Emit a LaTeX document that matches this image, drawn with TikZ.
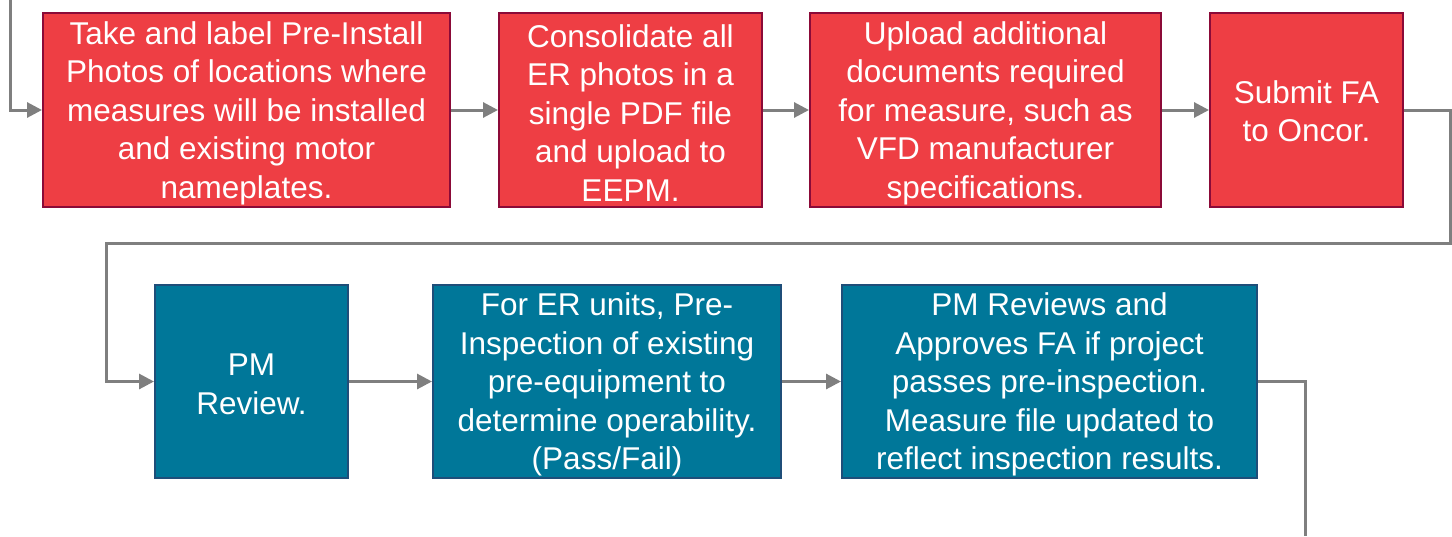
\documentclass[tikz,border=0pt]{standalone}
\usepackage{fontspec}
\setmainfont{Liberation Sans}
\usetikzlibrary{arrows.meta}
\definecolor{redfill}{HTML}{EE3E44}
\definecolor{redline}{HTML}{8B0A38}
\definecolor{tealfill}{HTML}{007799}
\definecolor{tealline}{HTML}{1F4E79}
\definecolor{arrgray}{HTML}{7F7F7F}
\tikzset{
  box/.style={rectangle, inner sep=0pt, line width=2pt, minimum height=194pt},
  redbox/.style={box, fill=redfill, draw=redline},
  tealbox/.style={box, fill=tealfill, draw=tealline, minimum height=193pt},
  txt/.style={inner sep=0pt, text=white, align=center, yshift=-3pt,
    font=\fontsize{31.5}{38.5}\selectfont},
  conn/.style={draw=arrgray, line width=3pt, -{Triangle[length=15pt,width=15pt]}},
  plain/.style={draw=arrgray, line width=3pt}
}
\begin{document}
\begin{tikzpicture}[x=1pt,y=-1pt]
\useasboundingbox (0,0) rectangle (1452,536);
\node[redbox, minimum width=407pt] (b1) at (246.5,110) {};
\node[redbox, minimum width=263pt] (b2) at (630.5,110) {};
\node[redbox, minimum width=351pt] (b3) at (985.5,110) {};
\node[redbox, minimum width=193pt] (b4) at (1306.5,110) {};
\node[tealbox, minimum width=193pt] (b5) at (251.5,381.5) {};
\node[tealbox, minimum width=348pt] (b6) at (607,381.5) {};
\node[tealbox, minimum width=415pt] (b7) at (1049.5,381.5) {};
\node[txt] (t1) at (b1) {Take and label Pre-Install\\Photos of locations where\\measures will be installed\\and existing motor\\nameplates.};
\node[txt] (t2) at (b2) {Consolidate all\\ER photos in a\\single PDF file\\and upload to\\EEPM.};
\node[txt] (t3) at (b3) {Upload additional\\documents required\\for measure, such as\\VFD manufacturer\\specifications.};
\node[txt, yshift=2pt] (t4) at (b4) {Submit FA\\to Oncor.};
\node[txt] (t5) at (b5) {PM\\Review.};
\node[txt] (t6) at (b6) {For ER units, Pre-\\Inspection of existing\\pre-equipment to\\determine operability.\\(Pass/Fail)};
\node[txt] (t7) at (b7) {PM Reviews and\\Approves FA if project\\passes pre-inspection.\\Measure file updated to\\reflect inspection results.};
\coordinate (s) at (10,0);
\coordinate (r1) at (1450,243);
\coordinate (l1) at (106,243);
\coordinate (e) at (1305,536);
\draw[conn] (s) |- (b1.west);
\draw[conn] (b1) -- (b2);
\draw[conn] (b2) -- (b3);
\draw[conn] (b3) -- (b4);
\draw[conn] (b4.east) -| (r1) -- (l1) |- (b5.west);
\draw[conn] (b5) -- (b6);
\draw[conn] (b6) -- (b7);
\draw[plain] (b7.east) -| (e);
\end{tikzpicture}
\end{document}
